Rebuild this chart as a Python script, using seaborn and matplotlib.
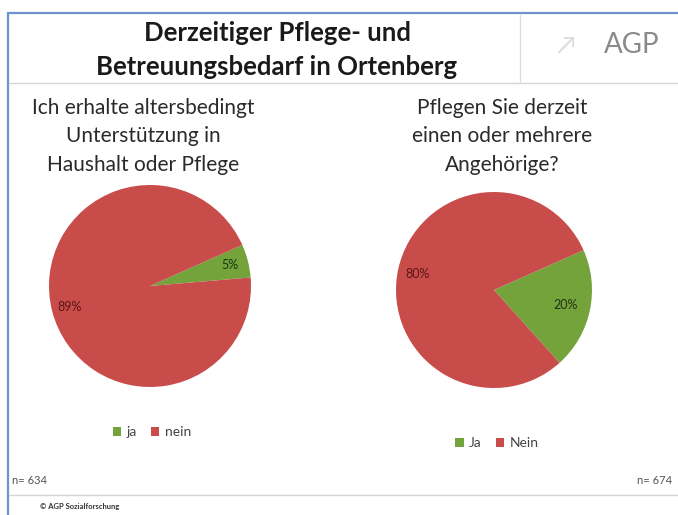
import matplotlib
matplotlib.use("Agg")
import matplotlib.pyplot as plt
import seaborn as sns
import numpy as np
from matplotlib.lines import Line2D

# ---- data ----
title_lines = ["Derzeitiger Pflege- und", "Betreuungsbedarf in Ortenberg"]
left_question = ["Ich erhalte altersbedingt", "Unterstützung in", "Haushalt oder Pflege"]
left_labels = ["ja", "nein"]
left_values = [5, 89]
left_n = "n= 634"
right_question = ["Pflegen Sie derzeit", "einen oder mehrere", "Angehörige?"]
right_labels = ["Ja", "Nein"]
right_values = [20, 80]
right_n = "n= 674"
footer = "© AGP Sozialforschung"
logo = "AGP"

sns.set_theme(style="white")
plt.rcParams["font.family"] = ["Lato", "DejaVu Sans"]

W, H = 678, 515
fig = plt.figure(figsize=(W / 100, H / 100), dpi=100)
fig.patch.set_facecolor("white")

def fx(x):
    return x / W

def fy(y):
    return 1 - y / H

palette = sns.color_palette(["#74A33C", "#C84C4A"])

# ---- frame lines ----
fig.add_artist(Line2D([fx(8), fx(678)], [fy(13), fy(13)], color="#6F93CE", lw=1.6))
fig.add_artist(Line2D([fx(8), fx(8)], [fy(13), fy(515)], color="#6F93CE", lw=1.6))
fig.add_artist(Line2D([fx(9), fx(678)], [fy(83), fy(83)], color="#D6D6D6", lw=1.0))
fig.add_artist(Line2D([fx(520), fx(520)], [fy(15), fy(83)], color="#DDDDDD", lw=1.0))
fig.add_artist(Line2D([fx(9), fx(678)], [fy(495), fy(495)], color="#D6D6D6", lw=1.0))

# ---- title ----
fig.text(fx(277), fy(33), title_lines[0], ha="center", va="center",
         fontsize=18.5, fontweight="bold", color="#1a1a1a")
fig.text(fx(277), fy(67), title_lines[1], ha="center", va="center",
         fontsize=18.5, fontweight="bold", color="#1a1a1a")
fig.text(fx(632), fy(45), logo, ha="center", va="center",
         fontsize=20, color="#8a8a8a")
fig.text(fx(566), fy(45), "↗", ha="center", va="center",
         fontsize=18, color="#dcdcdc")

# ---- questions ----
for i, line in enumerate(left_question):
    fig.text(fx(143), fy(108 + i * 28.5), line, ha="center", va="center",
             fontsize=15, color="#2a2a2a")
for i, line in enumerate(right_question):
    fig.text(fx(502), fy(108 + i * 28.5), line, ha="center", va="center",
             fontsize=15, color="#2a2a2a")


def draw_pie(cx, cy, r, values, labels, dists, legend_xy):
    ax = fig.add_axes([fx(cx - r), fy(cy + r), 2 * r / W, 2 * r / H])
    wedges, _ = ax.pie(values, colors=palette, startangle=24, counterclock=False,
                       radius=1.0, wedgeprops=dict(linewidth=0))
    ax.set_xlim(-1, 1)
    ax.set_ylim(-1, 1)
    ax.set_aspect("auto")
    ax.axis("off")
    txt_cols = ["#1e3510", "#5a1616"]
    for w, v, d, c in zip(wedges, values, dists, txt_cols):
        th = np.deg2rad((w.theta1 + w.theta2) / 2)
        ax.text(d * np.cos(th), d * np.sin(th), f"{v}%", ha="center", va="center",
                fontsize=9, color=c)
    fig.legend(wedges, labels, loc="center", bbox_to_anchor=(fx(legend_xy[0]), fy(legend_xy[1])),
               ncol=2, frameon=False, handlelength=0.6, handleheight=0.6,
               handletextpad=0.4, columnspacing=1.0, fontsize=10,
               labelcolor="#444444")
    return ax


draw_pie(150, 286, 101, left_values, left_labels, [0.82, 0.82], (152, 432))
draw_pie(494, 290, 98, right_values, right_labels, [0.75, 0.8], (497, 443))

fig.text(fx(12), fy(480), left_n, ha="left", va="center", fontsize=8, color="#555555")
fig.text(fx(672), fy(480), right_n, ha="right", va="center", fontsize=8, color="#555555")
fig.text(fx(40), fy(507), footer, ha="left", va="center", fontsize=5.5,
         fontweight="bold", color="#333333")

fig.savefig("out.png", dpi=100, facecolor="white")
